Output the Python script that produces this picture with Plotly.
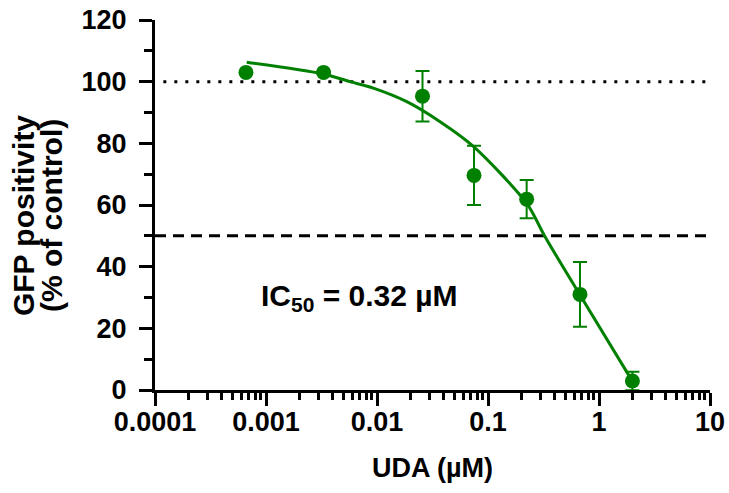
import plotly.graph_objects as go

# Measured data (UDA concentration in µM, GFP positivity % of control)
conc = [0.00066, 0.0033, 0.0257, 0.0748, 0.223, 0.674, 2.0]
gfp = [103.0, 103.0, 95.3, 69.6, 61.9, 31.0, 2.9]
gfp_err = [0.5, 0.5, 8.2, 9.6, 6.2, 10.5, 3.0]

# Fitted curve
fit_x = [0.00067, 0.00328, 0.00571, 0.00927, 0.01854, 0.037, 0.0738,
         0.2234, 0.3266, 0.6745, 1.972]
fit_y = [106.3, 102.5, 100.0, 97.9, 93.5, 87.0, 79.0,
         60.5, 49.7, 30.8, 3.2]

x_tickvals = [0.0001, 0.001, 0.01, 0.1, 1, 10]
x_ticktext = ["0.0001", "0.001", "0.01", "0.1", "1", "10"]
y_tickvals = [0, 20, 40, 60, 80, 100, 120]

ref_top = 100
ref_half = 50
ic50_label = "IC<sub>50</sub> = 0.32 µM"

GREEN = "rgb(0,128,0)"
FONT = "Liberation Sans, Arial, sans-serif"

W, H = 729, 493
ML, MR, MT, MB = 155, 19, 20, 103
PW = W - ML - MR

fig = go.Figure()

fig.add_trace(go.Scatter(
    x=fit_x, y=fit_y, mode="lines",
    line=dict(color=GREEN, width=3, shape="spline", smoothing=0.8),
    hoverinfo="skip", showlegend=False,
))

fig.add_trace(go.Scatter(
    x=conc, y=gfp, mode="markers",
    marker=dict(color=GREEN, size=15),
    error_y=dict(type="data", array=gfp_err, visible=True,
                 color=GREEN, thickness=2, width=7),
    cliponaxis=False, showlegend=False,
))

fig.add_shape(type="line", xref="paper", yref="y", x0=0.015, x1=1,
              y0=ref_top, y1=ref_top,
              line=dict(color="black", width=3, dash="3px,8px"), layer="below")
fig.add_shape(type="line", xref="paper", yref="y", x0=0.0, x1=1,
              y0=ref_half, y1=ref_half,
              line=dict(color="black", width=3, dash="11px,7px"), layer="below")

fig.add_annotation(x=-2.162, y=30, xref="x", yref="y", text=ic50_label,
                   showarrow=False, xanchor="center", yanchor="middle",
                   font=dict(family=FONT, size=30, color="black", weight="bold"))

ytitle_font = dict(family=FONT, size=30, color="black", weight="bold")
fig.add_annotation(x=(23 - ML) / PW, y=0.47, xref="paper", yref="paper",
                   text="GFP positivity", textangle=-90,
                   showarrow=False, xanchor="center", yanchor="middle",
                   font=ytitle_font)
fig.add_annotation(x=(51 - ML) / PW, y=0.47, xref="paper", yref="paper",
                   text="(% of control)", textangle=-90,
                   showarrow=False, xanchor="center", yanchor="middle",
                   font=ytitle_font)

fig.add_annotation(x=0.5, y=-0.211, xref="paper", yref="paper",
                   text="UDA (µM)", showarrow=False,
                   xanchor="center", yanchor="middle",
                   font=dict(family=FONT, size=27, color="black", weight="bold"))

fig.update_xaxes(
    type="log", range=[-4, 1], automargin=False,
    tickvals=x_tickvals, ticktext=x_ticktext,
    showline=True, linecolor="black", linewidth=3,
    ticks="outside", ticklen=13, tickwidth=3, tickcolor="black",
    ticklabelstandoff=-7,
    minor=dict(ticks="outside", ticklen=7, tickwidth=2.5, tickcolor="black",
               dtick="D1", showgrid=False),
    showgrid=False, zeroline=False,
    tickfont=dict(family=FONT, size=27, color="black", weight="bold"),
)
fig.update_yaxes(
    range=[0, 120], tickvals=y_tickvals, automargin=False,
    showline=True, linecolor="black", linewidth=3,
    ticks="outside", ticklen=13, tickwidth=3, tickcolor="black",
    ticklabelstandoff=7,
    minor=dict(ticks="outside", ticklen=8, tickwidth=3, tickcolor="black",
               dtick=10, showgrid=False),
    showgrid=False, zeroline=False,
    tickfont=dict(family=FONT, size=27, color="black", weight="bold"),
)

fig.update_layout(
    width=W, height=H,
    margin=dict(l=ML, r=MR, t=MT, b=MB),
    plot_bgcolor="white", paper_bgcolor="white",
    showlegend=False,
)

fig.write_html(
    "out.html",
    config={"displayModeBar": False},
    post_script="document.body.style.margin='0';document.body.style.overflow='hidden';",
)
